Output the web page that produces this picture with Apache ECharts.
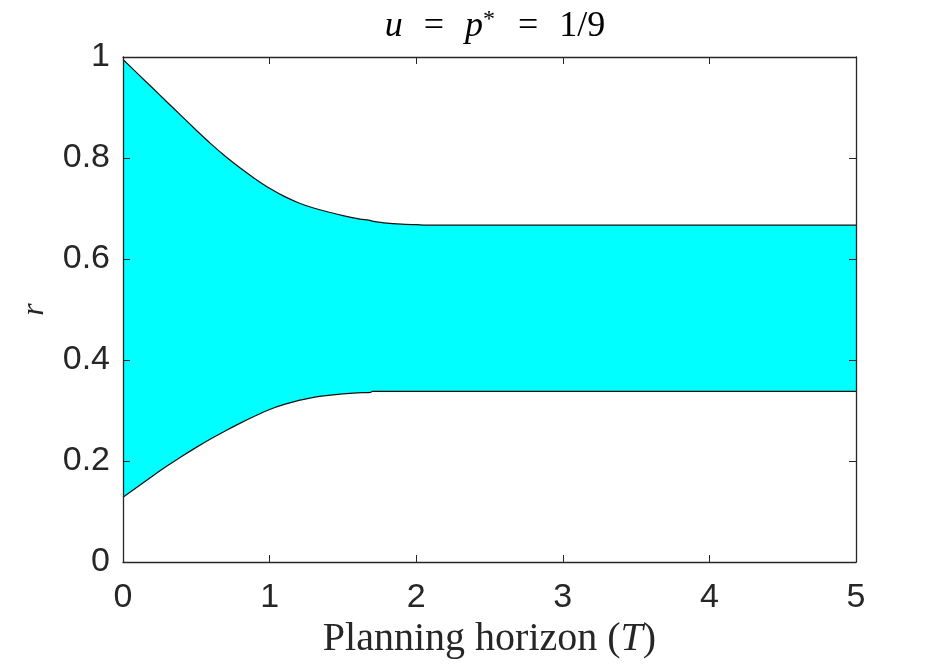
<!DOCTYPE html>
<html>
<head>
<meta charset="utf-8">
<script src="https://cdn.jsdelivr.net/npm/echarts@6/dist/echarts.min.js"></script>
<style>html,body{margin:0;padding:0;background:#fff}#c{width:946px;height:666px}</style>
</head>
<body>
<div id="c"></div>
<script>
const T =     [0,     0.1,   0.2,   0.3,   0.4,   0.5,   0.6,   0.7,   0.8,   0.9,   1.0,   1.1,   1.2,   1.3,   1.4,   1.5,   1.6,   1.69,  1.7,   1.8,   1.9,   2.0,   2.1,   2.2,   5];
const upper = [0.995, 0.967, 0.939, 0.911, 0.883, 0.855, 0.828, 0.803, 0.780, 0.759, 0.740, 0.724, 0.711, 0.701, 0.693, 0.686, 0.680, 0.676, 0.675, 0.671, 0.669, 0.668, 0.667, 0.667, 0.667];
const lower = [0.128, 0.149, 0.170, 0.190, 0.209, 0.227, 0.244, 0.260, 0.275, 0.289, 0.302, 0.312, 0.320, 0.326, 0.330, 0.333, 0.335, 0.336, 0.338, 0.338, 0.338, 0.338, 0.338, 0.338, 0.338];
const xTicks = [0, 1, 2, 3, 4, 5];
const yTicks = [0, 0.2, 0.4, 0.6, 0.8, 1];

const chart = echarts.init(document.getElementById('c'), null, {renderer: 'canvas'});
const serif = 'Liberation Serif';
const sans = 'Liberation Sans';
const sp = '\u2002\u200A';
const axisLine = {show: true, onZero: false, lineStyle: {color: '#262626', width: 1.3}};
const tick = {show: true, inside: true, length: 7, lineStyle: {color: '#262626', width: 1}};
chart.setOption({
  animation: false,
  backgroundColor: '#fff',
  title: {
    text: '{i|u}' + sp + '=' + sp + '{i|p}{s|*}' + sp + '=' + sp + '1/9',
    left: 490, top: 3, textAlign: 'center',
    textStyle: {
      fontFamily: serif, fontSize: 36, fontWeight: 'normal', color: '#000',
      rich: {
        i: {fontFamily: serif, fontStyle: 'italic', fontSize: 36, color: '#000'},
        s: {fontFamily: serif, fontSize: 24, color: '#000', verticalAlign: 'top', padding: [0, 2, 14, 0]}
      }
    }
  },
  grid: {left: 123, top: 57, right: 90, bottom: 104, containLabel: false, outerBoundsMode: 'none'},
  xAxis: [{
    type: 'value', min: 0, max: 5, interval: 1, position: 'bottom',
    axisLine: axisLine, axisTick: tick, splitLine: {show: false}, z: 10,
    axisLabel: {fontFamily: sans, fontSize: 34, color: '#262626', margin: 19,
      formatter: v => xTicks.includes(v) ? String(v) : ''},
    name: '{n|Planning horizon (}{i|T}{n|)}', nameLocation: 'middle', nameGap: 56,
    nameTextStyle: {rich: {
      n: {fontFamily: serif, fontSize: 40, color: '#262626'},
      i: {fontFamily: serif, fontStyle: 'italic', fontSize: 40, color: '#262626'}
    }}
  }, {
    type: 'value', min: 0, max: 5, interval: 1, position: 'top',
    axisLine: axisLine, axisTick: tick, axisLabel: {show: false}, splitLine: {show: false}, z: 10
  }],
  yAxis: [{
    type: 'value', min: 0, max: 1, interval: 0.2, position: 'left',
    axisLine: axisLine, axisTick: tick, splitLine: {show: false}, z: 10,
    axisLabel: {fontFamily: sans, fontSize: 34, color: '#262626', margin: 13,
      formatter: v => { const t = yTicks.find(k => Math.abs(k - v) < 1e-9); return t === undefined ? '' : String(t); }},
    name: 'r', nameLocation: 'middle', nameGap: 72, nameRotate: 90,
    nameTextStyle: {fontFamily: serif, fontStyle: 'italic', fontSize: 32, color: '#262626'}
  }, {
    type: 'value', min: 0, max: 1, interval: 0.2, position: 'right',
    axisLine: axisLine, axisTick: tick, axisLabel: {show: false}, splitLine: {show: false}, z: 10
  }],
  series: [{
    type: 'line', name: 'upper', showSymbol: false, symbol: 'none', smooth: 0.2,
    data: T.map((t, i) => [t, upper[i]]),
    lineStyle: {color: '#111', width: 1.2},
    areaStyle: {color: '#00FFFF', opacity: 1, origin: 'start'}, z: 2
  }, {
    type: 'line', name: 'lower', showSymbol: false, symbol: 'none', smooth: 0.2,
    data: T.map((t, i) => [t, lower[i]]),
    lineStyle: {color: '#111', width: 1.2},
    areaStyle: {color: '#FFFFFF', opacity: 1, origin: 'start'}, z: 3
  }]
});
</script>
</body>
</html>
